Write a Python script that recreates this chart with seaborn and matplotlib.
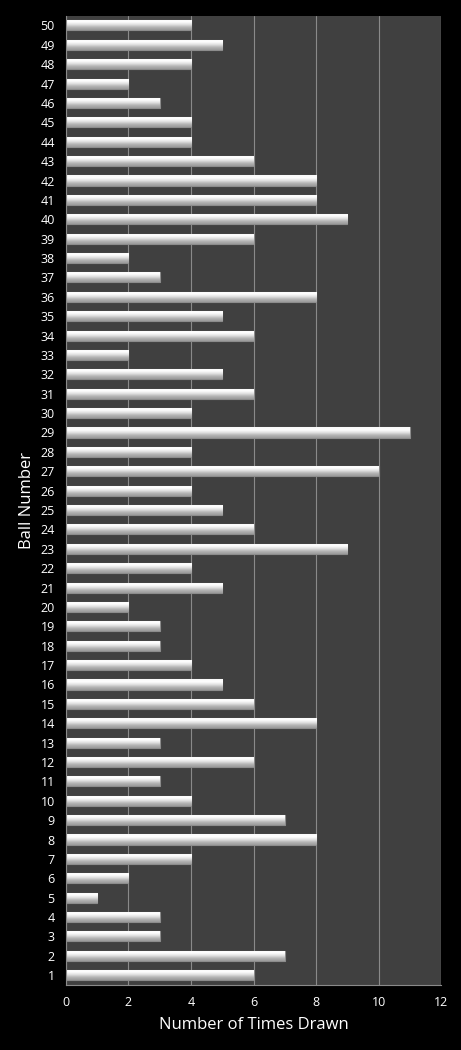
import matplotlib
matplotlib.use("Agg")
import matplotlib.pyplot as plt
import seaborn as sns
import pandas as pd
import numpy as np
from matplotlib.colors import LinearSegmentedColormap

balls = list(range(1, 51))
times_drawn = [6, 7, 3, 3, 1, 2, 4, 8, 7, 4,
               3, 6, 3, 8, 6, 5, 4, 3, 3, 2,
               5, 4, 9, 6, 5, 4, 10, 4, 11, 4,
               6, 5, 2, 6, 5, 8, 3, 2, 6, 9,
               8, 8, 6, 4, 4, 3, 2, 4, 5, 4]

df = pd.DataFrame({"ball": [str(b) for b in balls], "times": times_drawn})
order = [str(b) for b in reversed(balls)]

sns.set_style("dark")
plt.rcParams["font.family"] = ["Open Sans", "DejaVu Sans"]

fig = plt.figure(figsize=(4.61, 10.5), dpi=100, facecolor="black")
ax = fig.add_axes([0.143, 0.062, 0.814, 0.923])
ax.set_facecolor("#404040")

sns.barplot(data=df, x="times", y="ball", order=order, orient="h",
            color="#e4e4e4", edgecolor="#8c8c8c", linewidth=0.8,
            width=0.52, saturation=1, ax=ax)

# glossy gradient fill on each bar
grad_cmap = LinearSegmentedColormap.from_list(
    "gloss", ["#fafafa", "#ffffff", "#e2e2e2", "#b4b4b4", "#9a9a9a"])
grad = np.linspace(0, 1, 64).reshape(-1, 1)
xlim, ylim = (0, 12), ax.get_ylim()
for p in list(ax.patches):
    x0, y0 = p.get_x(), p.get_y()
    w, h = p.get_width(), p.get_height()
    im = ax.imshow(grad, cmap=grad_cmap, aspect="auto", origin="upper",
                   extent=(x0, x0 + w, y0 + h, y0), zorder=p.get_zorder() + 0.1)
    im.set_clip_path(p)
ax.set_ylim(ylim)

ax.set_xlim(0, 12)
ax.set_xticks(range(0, 13, 2))
ax.grid(axis="x", color="#8a8a8a", linewidth=0.8)
ax.grid(axis="y", visible=False)
ax.set_axisbelow(True)
for s in ax.spines.values():
    s.set_visible(False)
ax.spines["left"].set_visible(True)
ax.spines["left"].set_color("#8a8a8a")
ax.spines["bottom"].set_visible(True)
ax.spines["bottom"].set_color("#8a8a8a")

ax.tick_params(colors="white", labelsize=9, length=0, pad=8)
ax.set_xlabel("Number of Times Drawn", color="white", fontsize=12, labelpad=6)
ax.set_ylabel("Ball Number", color="white", fontsize=12, labelpad=4)

fig.savefig("out.png", dpi=100, facecolor="black")
